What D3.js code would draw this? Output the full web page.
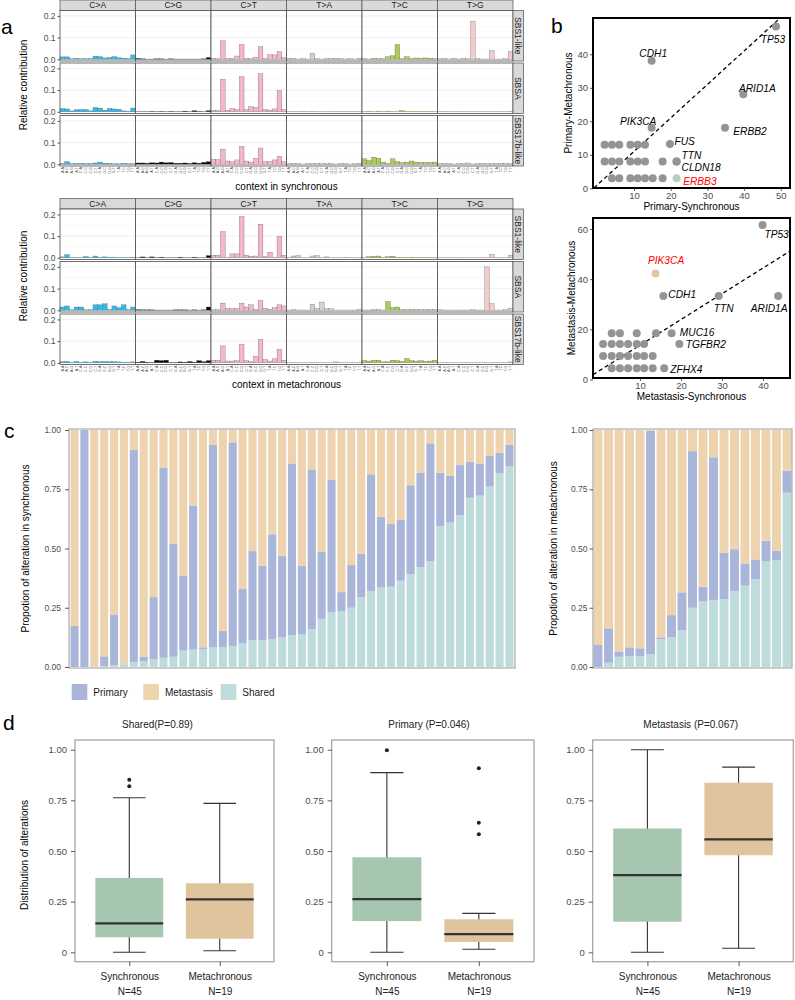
<!DOCTYPE html>
<html>
<head>
<meta charset="utf-8">
<script src="https://cdn.jsdelivr.net/npm/d3@7"></script>
<style>
  body { margin: 0; background: #fff; }
  svg { font-family: "Liberation Sans", Arial, sans-serif; }
</style>
</head>
<body>
<svg id="fig" width="795" height="1000"></svg>
<script>
// ---------- panel a : 96-channel signature profiles ----------
const mutTypes = ['C>A', 'C>G', 'C>T', 'T>A', 'T>C', 'T>G'];
const mutColors = ['#2EBAED', '#000000', '#F5B5CD', '#D4D2D2', '#ADCC54', '#F2CBCD'];
const flankBases = ['A', 'C', 'G', 'T'];
const sigNames = ['SBS1-like', 'SBSA', 'SBS17b-like'];

const syncSBS1 = [
  0.011,0.011,0.002,0.004,0.002,0.003,0.003,0.014,0.012,0.006,0.008,0.012,0.007,0.005,0.003,0.020,
  0.004,0.002,0.001,0.001,0.002,0.002,0.001,0.002,0.001,0.001,0.001,0.001,0.001,0.001,0.002,0.008,
  0.005,0.002,0.085,0.002,0.005,0.015,0.068,0.004,0.002,0.010,0.058,0.003,0.021,0.020,0.035,0.008,
  0.004,0.004,0.001,0.002,0.001,0.028,0.002,0.001,0.002,0.003,0.005,0.002,0.001,0.002,0.001,0.005,
  0.002,0.001,0.005,0.002,0.002,0.012,0.016,0.068,0.003,0.012,0.003,0.006,0.005,0.006,0.005,0.002,
  0.002,0.002,0.001,0.005,0.001,0.004,0.002,0.175,0.002,0.001,0.001,0.040,0.001,0.001,0.002,0.035
];
const syncSBSA = [
  0.015,0.013,0.004,0.009,0.010,0.010,0.004,0.020,0.017,0.007,0.015,0.013,0.011,0.004,0.003,0.017,
  0.001,0.001,0.001,0.002,0.001,0.002,0.001,0.002,0.001,0.001,0.003,0.001,0.005,0.002,0.001,0.005,
  0.006,0.006,0.150,0.006,0.015,0.010,0.162,0.010,0.023,0.020,0.175,0.010,0.008,0.013,0.098,0.010,
  0.002,0.002,0.002,0.003,0.002,0.003,0.001,0.001,0.001,0.001,0.001,0.002,0.002,0.002,0.002,0.002,
  0.001,0.003,0.001,0.003,0.001,0.003,0.001,0.001,0.005,0.002,0.002,0.002,0.002,0.002,0.002,0.001,
  0.002,0.002,0.001,0.001,0.001,0.001,0.001,0.001,0.001,0.001,0.001,0.001,0.001,0.001,0.001,0.003
];
const syncSBS17b = [
  0.004,0.012,0.003,0.003,0.004,0.003,0.003,0.006,0.010,0.005,0.004,0.002,0.002,0.004,0.002,0.003,
  0.006,0.006,0.005,0.007,0.006,0.010,0.007,0.008,0.005,0.005,0.006,0.004,0.007,0.005,0.009,0.012,
  0.022,0.022,0.070,0.015,0.012,0.020,0.082,0.015,0.010,0.027,0.075,0.012,0.012,0.020,0.037,0.012,
  0.003,0.003,0.003,0.001,0.002,0.002,0.003,0.002,0.002,0.002,0.001,0.002,0.003,0.001,0.002,0.003,
  0.025,0.017,0.033,0.028,0.010,0.004,0.025,0.012,0.008,0.010,0.015,0.010,0.008,0.008,0.008,0.010,
  0.002,0.002,0.003,0.001,0.002,0.002,0.006,0.001,0.002,0.002,0.002,0.002,0.003,0.003,0.002,0.002
];
const metaSBS1 = [
  0.004,0.014,0.002,0.002,0.002,0.006,0.002,0.008,0.003,0.004,0.003,0.003,0.002,0.002,0.002,0.003,
  0.001,0.004,0.001,0.004,0.001,0.003,0.001,0.001,0.001,0.003,0.001,0.001,0.003,0.001,0.001,0.010,
  0.012,0.012,0.120,0.003,0.018,0.018,0.190,0.012,0.007,0.008,0.155,0.005,0.025,0.003,0.100,0.012,
  0.003,0.008,0.010,0.002,0.002,0.008,0.010,0.002,0.004,0.002,0.001,0.001,0.003,0.002,0.001,0.002,
  0.002,0.005,0.007,0.008,0.002,0.005,0.007,0.003,0.002,0.002,0.003,0.002,0.002,0.002,0.002,0.002,
  0.002,0.001,0.002,0.001,0.002,0.001,0.001,0.001,0.001,0.001,0.002,0.015,0.001,0.002,0.001,0.012
];
const metaSBSA = [
  0.015,0.020,0.002,0.015,0.015,0.002,0.002,0.025,0.025,0.030,0.003,0.020,0.012,0.025,0.003,0.015,
  0.003,0.002,0.002,0.002,0.001,0.001,0.001,0.001,0.002,0.002,0.002,0.001,0.002,0.001,0.002,0.015,
  0.002,0.002,0.033,0.008,0.008,0.008,0.033,0.015,0.025,0.004,0.045,0.010,0.005,0.012,0.025,0.020,
  0.001,0.002,0.001,0.001,0.001,0.028,0.008,0.038,0.007,0.007,0.001,0.001,0.001,0.001,0.001,0.004,
  0.001,0.001,0.002,0.002,0.001,0.040,0.012,0.015,0.002,0.002,0.003,0.002,0.002,0.002,0.002,0.002,
  0.002,0.001,0.001,0.001,0.001,0.001,0.001,0.002,0.001,0.001,0.200,0.030,0.001,0.001,0.002,0.010
];
const metaSBS17b = [
  0.005,0.006,0.003,0.006,0.003,0.004,0.003,0.007,0.005,0.005,0.005,0.005,0.004,0.003,0.003,0.004,
  0.003,0.006,0.003,0.002,0.012,0.010,0.012,0.002,0.002,0.004,0.003,0.006,0.003,0.010,0.005,0.010,
  0.012,0.012,0.078,0.008,0.008,0.010,0.085,0.010,0.005,0.030,0.108,0.015,0.008,0.018,0.062,0.012,
  0.002,0.002,0.001,0.001,0.001,0.002,0.001,0.002,0.001,0.001,0.004,0.002,0.001,0.002,0.001,0.002,
  0.010,0.008,0.012,0.012,0.004,0.005,0.012,0.010,0.006,0.020,0.010,0.008,0.010,0.006,0.008,0.012,
  0.002,0.002,0.002,0.002,0.001,0.002,0.002,0.002,0.002,0.001,0.002,0.002,0.001,0.002,0.002,0.004
];
const sigTicks = [0, 0.1, 0.2];

// ---------- panel b : gene scatter ----------
const priGenes = ['TP53', 'CDH1', 'ARID1A', 'ERBB2', 'PIK3CA', 'FUS', 'TTN', 'CLDN18', 'ERBB3'];
const priGeneX = [48.7, 14.8, 39.8, 34.8, 14.8, 19.8, 21.6, 21.6, 21.6];
const priGeneY = [48.3, 38.1, 28.1, 18.1, 18.1, 13.2, 8, 8, 3];
const priOtherX = [2, 4, 6, 9, 11, 13,  2, 4, 6, 9, 11, 13, 17.8,  4, 6, 9, 11, 13, 15.1, 17.8];
const priOtherY = [13, 13, 13, 13, 13, 13,  8, 8, 8, 8, 8, 8, 8,  3, 3, 3, 3, 3, 3, 3];
const priFit = [1.0, 1.0]; // intercept, slope
const priHighlight = 'ERBB3';

const metGenes = ['TP53', 'PIK3CA', 'CDH1', 'TTN', 'ARID1A', 'MUC16', 'TGFBR2', 'ZFHX4'];
const metGeneX = [39.9, 13.8, 15.7, 29.2, 43.7, 17.7, 19.6, 15.9];
const metGeneY = [61.6, 42.3, 33.3, 33.3, 33.3, 18.4, 14.2, 4.5];
const metOtherX = [3.1, 5.1, 9.2, 13.9,  1.0, 3.1, 5.1, 7.1, 9.2, 11.0,
                   1.0, 3.1, 5.1, 7.1, 9.2, 11.0, 13.1,  3.1, 5.1, 7.1, 9.2, 11.0, 13.1];
const metOtherY = [18.4, 18.4, 18.4, 18.4,  14.2, 14.2, 14.2, 14.2, 14.2, 14.2,
                   9.4, 9.4, 9.4, 9.4, 9.4, 9.4, 9.4,  4.5, 4.5, 4.5, 4.5, 4.5, 4.5];
const metFit = [3.4, 1.026];
const metHighlight = 'PIK3CA';

// ---------- panel c : proportion of alteration per patient ----------
const stackKeys = ['shared', 'primary', 'metastasis'];
const stackLabels = ['Primary', 'Metastasis', 'Shared'];
const syncShared = [0, 0, 0, 0.003, 0.008, 0.012, 0.020, 0.024, 0.032, 0.039, 0.043, 0.069, 0.073, 0.075, 0.083,
  0.083, 0.089, 0.100, 0.114, 0.114, 0.118, 0.125, 0.135, 0.139, 0.160, 0.203, 0.232, 0.236, 0.250, 0.294,
  0.321, 0.335, 0.339, 0.364, 0.392, 0.421, 0.447, 0.595, 0.609, 0.641, 0.714, 0.723, 0.761, 0.817, 0.848];
const syncPrimary = [0.173, 1.0, 0, 0.042, 0.214, 0, 0.896, 0.019, 0.263, 0.802, 0.476, 0.315, 0.608, 0.008, 0.854,
  0.070, 0.859, 0.229, 0.375, 0.314, 0.442, 0.343, 0.724, 0.289, 0.674, 0.282, 0.557, 0.080, 0.180, 0.183,
  0.492, 0.299, 0.264, 0.256, 0.375, 0.399, 0.497, 0.225, 0.198, 0.211, 0.152, 0.136, 0.129, 0.087, 0.089];
const syncMeta = [0.827, 0, 1.0, 0.955, 0.778, 0.988, 0.084, 0.957, 0.705, 0.159, 0.481, 0.616, 0.319, 0.917, 0.063,
  0.847, 0.052, 0.671, 0.511, 0.572, 0.440, 0.532, 0.141, 0.572, 0.166, 0.515, 0.211, 0.684, 0.570, 0.523,
  0.187, 0.366, 0.397, 0.380, 0.233, 0.180, 0.056, 0.180, 0.193, 0.148, 0.134, 0.141, 0.110, 0.096, 0.063];
const metaShared = [0, 0.018, 0.043, 0.046, 0.046, 0.055, 0.117, 0.125, 0.156, 0.250, 0.276, 0.283, 0.286, 0.321,
  0.343, 0.370, 0.447, 0.451, 0.735];
const metaPrimary = [0.093, 0.145, 0.022, 0.037, 0.033, 0.941, 0.008, 0.094, 0.159, 0.661, 0.063, 0.602, 0.196,
  0.176, 0.094, 0.084, 0.086, 0.040, 0.093];
const metaMeta = [0.907, 0.837, 0.935, 0.917, 0.921, 0.004, 0.875, 0.781, 0.685, 0.089, 0.661, 0.115, 0.518,
  0.503, 0.563, 0.546, 0.467, 0.509, 0.172];
const propTicks = [0, 0.25, 0.5, 0.75, 1];

// ---------- panel d : box plots ----------
const boxGroups = ['Synchronous', 'Metachronous'];
const boxN = ['N=45', 'N=19'];
const boxTitles = ['Shared(P=0.89)', 'Primary (P=0.046)', 'Metastasis (P=0.067)'];
// [lower whisker, Q1, median, Q3, upper whisker]
const sharedStats = [[0, 0.074, 0.143, 0.367, 0.763], [0.008, 0.067, 0.261, 0.341, 0.735]];
const sharedOutliers = [[0.852, 0.819], []];
const primaryStats = [[0, 0.154, 0.262, 0.469, 0.887], [0.015, 0.051, 0.090, 0.163, 0.192]];
const primaryOutliers = [[0.997], [0.909, 0.640, 0.583]];
const metastasisStats = [[0, 0.151, 0.381, 0.611, 1.0], [0.020, 0.479, 0.557, 0.837, 0.914]];
const metastasisOutliers = [[], []];

const svg = d3.select('#fig');

function panelLetter(txt, x, y) {
  svg.append('text').text(txt).attr('x', x).attr('y', y).style('font-size', '21px').attr('fill', '#000');
}

function styleAxis(ax, size, col) {
  ax.select('.domain').remove();
  ax.selectAll('.tick line').attr('stroke', '#333').attr('stroke-width', 0.8);
  ax.selectAll('.tick text').style('font-size', size).attr('fill', col || '#4D4D4D')
    .style('font-family', '"Liberation Sans", Arial, sans-serif');
}

// ---------- a ----------
function drawSignatureBlock(top, sigs, xTitle, yTitleY) {
  const left = 60, facetW = 75.5, stripH = 10.5, rowH = 50.5, rowGap = 2;
  const g = svg.append('g');
  const x = d3.scaleBand().domain(d3.range(16)).range([0, facetW]);
  const ctx = [];
  flankBases.forEach(a => flankBases.forEach(b => ctx.push(a + '.' + b)));

  mutTypes.forEach((m, j) => {
    g.append('rect').attr('x', left + j * facetW).attr('y', top)
      .attr('width', facetW).attr('height', stripH)
      .attr('fill', '#D9D9D9').attr('stroke', '#4D4D4D').attr('stroke-width', 0.7);
    g.append('text').text(m)
      .attr('x', left + j * facetW + facetW / 2).attr('y', top + stripH / 2 + 3)
      .attr('text-anchor', 'middle').style('font-size', '8.5px').attr('fill', '#1A1A1A');
  });

  let lastBottom = 0;
  sigs.forEach((vals, i) => {
    const y0 = top + stripH + i * (rowH + rowGap);
    const y = d3.scaleLinear().domain([-0.008, 0.225]).range([y0 + rowH, y0]);
    lastBottom = y0 + rowH;

    mutTypes.forEach((m, j) => {
      const p = g.append('g').attr('transform', `translate(${left + j * facetW},0)`);
      p.append('rect').attr('x', 0).attr('y', y0).attr('width', facetW).attr('height', rowH).attr('fill', '#fff');
      [0.05, 0.15].forEach(t => p.append('line').attr('x1', 0).attr('x2', facetW)
        .attr('y1', y(t)).attr('y2', y(t)).attr('stroke', '#F2F2F2').attr('stroke-width', 0.5));
      sigTicks.forEach(t => p.append('line').attr('x1', 0).attr('x2', facetW)
        .attr('y1', y(t)).attr('y2', y(t)).attr('stroke', '#EBEBEB').attr('stroke-width', 0.8));
      p.selectAll('rect.bar')
        .data(vals.slice(j * 16, j * 16 + 16))
        .join('rect')
        .attr('class', 'bar')
        .attr('x', (d, k) => x(k))
        .attr('width', x.bandwidth())
        .attr('y', d => y(d))
        .attr('height', d => y(0) - y(d))
        .attr('fill', mutColors[j])
        .attr('stroke', '#5A5A5A')
        .attr('stroke-width', 0.3);
      p.append('rect').attr('x', 0).attr('y', y0).attr('width', facetW).attr('height', rowH)
        .attr('fill', 'none').attr('stroke', '#4D4D4D').attr('stroke-width', 0.8);
    });

    const ax = g.append('g').attr('transform', `translate(${left},0)`)
      .call(d3.axisLeft(y).tickValues(sigTicks).tickFormat(d3.format('.1f')).tickSize(2.5).tickPadding(2));
    styleAxis(ax, '8.5px');

    const sx = left + 6 * facetW;
    g.append('rect').attr('x', sx).attr('y', y0).attr('width', 10.5).attr('height', rowH)
      .attr('fill', '#D9D9D9').attr('stroke', '#4D4D4D').attr('stroke-width', 0.7);
    g.append('text').text(sigNames[i])
      .attr('transform', `translate(${sx + 2.3},${y0 + rowH / 2}) rotate(90)`)
      .attr('text-anchor', 'middle').style('font-size', '8.5px').attr('fill', '#1A1A1A');
  });

  // context tick labels under the last row
  mutTypes.forEach((m, j) => {
    ctx.forEach((c, k) => {
      const cx = left + j * facetW + x(k) + x.bandwidth() / 2;
      g.append('text').text(c)
        .attr('transform', `translate(${cx + 1.2},${lastBottom + 1.2}) rotate(-90)`)
        .attr('text-anchor', 'end').style('font-size', '3.6px').attr('fill', '#4D4D4D');
    });
  });

  g.append('text').text(xTitle).attr('x', left + 3 * facetW).attr('y', lastBottom + 23.5)
    .attr('text-anchor', 'middle').style('font-size', '10px');
  g.append('text').text('Relative contribution')
    .attr('transform', `translate(26.5,${yTitleY}) rotate(-90)`)
    .attr('text-anchor', 'middle').style('font-size', '10px');
}

drawSignatureBlock(0, [syncSBS1, syncSBSA, syncSBS17b], 'context in synchronous', 85);
drawSignatureBlock(198.5, [metaSBS1, metaSBSA, metaSBS17b], 'context in metachronous', 276);
panelLetter('a', 1, 34);

// ---------- b ----------
function drawScatter(o) {
  const g = svg.append('g');
  const [bx0, by0, bx1, by1] = o.box;
  const x = d3.scaleLinear().domain(o.xCal).range(o.xPx);
  const y = d3.scaleLinear().domain(o.yCal).range(o.yPx);

  g.append('rect').attr('x', bx0).attr('y', by0).attr('width', bx1 - bx0).attr('height', by1 - by0)
    .attr('fill', '#fff');

  // fitted line clipped to the panel
  const yb = y.invert(by1), yt = y.invert(by0);
  const xa = Math.max(x.invert(bx0), (yb - o.fit[0]) / o.fit[1]);
  const xb = Math.min(x.invert(bx1), (yt - o.fit[0]) / o.fit[1]);
  g.append('line')
    .attr('x1', x(xa)).attr('y1', y(o.fit[0] + o.fit[1] * xa))
    .attr('x2', x(xb)).attr('y2', y(o.fit[0] + o.fit[1] * xb))
    .attr('stroke', '#000').attr('stroke-width', 1.3).attr('stroke-dasharray', '4,3');

  g.selectAll('circle.other')
    .data(o.otherX.map((v, i) => [v, o.otherY[i]]))
    .join('circle')
    .attr('class', 'other')
    .attr('cx', d => x(d[0])).attr('cy', d => y(d[1])).attr('r', 4)
    .attr('fill', '#949494');

  g.selectAll('circle.gene')
    .data(o.genes)
    .join('circle')
    .attr('class', 'gene')
    .attr('cx', (d, i) => x(o.geneX[i])).attr('cy', (d, i) => y(o.geneY[i])).attr('r', 4)
    .attr('fill', d => d === o.highlight ? o.highlightFill : '#949494');

  g.selectAll('text.gene')
    .data(o.genes)
    .join('text')
    .attr('class', 'gene')
    .text(d => d)
    .attr('x', (d, i) => x(o.geneX[i]) + o.labelPos[d][0])
    .attr('y', (d, i) => y(o.geneY[i]) + o.labelPos[d][1])
    .attr('text-anchor', d => o.labelPos[d][2])
    .style('font-size', '10.2px').style('font-style', 'italic')
    .attr('fill', d => d === o.highlight ? '#FF0000' : '#000');

  g.append('rect').attr('x', bx0).attr('y', by0).attr('width', bx1 - bx0).attr('height', by1 - by0)
    .attr('fill', 'none').attr('stroke', '#000').attr('stroke-width', 2);

  const axB = g.append('g').attr('transform', `translate(0,${by1})`)
    .call(d3.axisBottom(x).tickValues(o.xTicks).tickSize(3).tickPadding(1));
  styleAxis(axB, '9.5px');
  const axL = g.append('g').attr('transform', `translate(${bx0},0)`)
    .call(d3.axisLeft(y).tickValues(o.yTicks).tickSize(3).tickPadding(2));
  styleAxis(axL, '9.5px');

  g.append('text').text(o.xTitle).attr('x', (bx0 + bx1) / 2).attr('y', by1 + 22)
    .attr('text-anchor', 'middle').style('font-size', '10px');
  g.append('text').text(o.yTitle)
    .attr('transform', `translate(${o.yTitleX},${(by0 + by1) / 2}) rotate(-90)`)
    .attr('text-anchor', 'middle').style('font-size', '10px');
}

drawScatter({
  box: [593, 18, 790, 188],
  xCal: [0, 50], xPx: [597.3, 780.8],
  yCal: [0, 40], yPx: [188.3, 54.3],
  xTicks: [10, 20, 30, 40, 50], yTicks: [0, 10, 20, 30, 40],
  genes: priGenes, geneX: priGeneX, geneY: priGeneY,
  otherX: priOtherX, otherY: priOtherY,
  fit: priFit, highlight: priHighlight, highlightFill: '#B7CEBF',
  labelPos: {
    TP53: [-3, 16.6, 'middle'], CDH1: [1.6, -3.4, 'middle'], ARID1A: [14, -2.6, 'middle'],
    ERBB2: [8.3, 7.3, 'start'], PIK3CA: [-13.4, -2.7, 'middle'], FUS: [4.5, 1.4, 'start'],
    TTN: [5, -2.2, 'start'], CLDN18: [5, 9.6, 'start'], ERBB3: [6.6, 6.9, 'start']
  },
  xTitle: 'Primary-Synchronous', yTitle: 'Primary-Metachronous', yTitleX: 572
});

drawScatter({
  box: [593, 218, 790, 378],
  xCal: [0, 40], xPx: [599, 763],
  yCal: [0, 60], yPx: [379.5, 229],
  xTicks: [10, 20, 30, 40], yTicks: [0, 20, 40, 60],
  genes: metGenes, geneX: metGeneX, geneY: metGeneY,
  otherX: metOtherX, otherY: metOtherY,
  fit: metFit, highlight: metHighlight, highlightFill: '#DCC8A2',
  labelPos: {
    TP53: [14, 12.7, 'middle'], PIK3CA: [10.5, -9.3, 'middle'], CDH1: [5, 1.7, 'start'],
    TTN: [5, 16.3, 'middle'], ARID1A: [-9, 16.3, 'middle'], MUC16: [8.3, 2.7, 'start'],
    TGFBR2: [6.4, 4.3, 'start'], ZFHX4: [6, 4.4, 'start']
  },
  xTitle: 'Metastasis-Synchronous', yTitle: 'Metastasis-Metachronous', yTitleX: 575
});
panelLetter('b', 551, 33);

// ---------- c ----------
const stackColors = { shared: '#BEDCDB', primary: '#A9B5D9', metastasis: '#EDD3AE' };

function drawStacked(o) {
  const g = svg.append('g');
  const rows = o.shared.map((s, i) => ({ id: i, shared: s, primary: o.primary[i], metastasis: o.meta[i] }));
  const series = d3.stack().keys(stackKeys)(rows);
  const x = d3.scaleBand().domain(rows.map(d => d.id)).range([o.x0, o.x1])
    .paddingInner(o.padIn).paddingOuter(o.padOut);
  const y = d3.scaleLinear().domain([0, 1]).range([o.yBottom, o.yTop]);

  g.selectAll('g.layer')
    .data(series)
    .join('g')
    .attr('class', 'layer')
    .attr('fill', d => stackColors[d.key])
    .selectAll('rect')
    .data(d => d)
    .join('rect')
    .attr('x', d => x(d.data.id))
    .attr('width', x.bandwidth())
    .attr('y', d => y(d[1]))
    .attr('height', d => y(d[0]) - y(d[1]));

  g.append('rect').attr('x', o.x0).attr('y', o.yTop - 1).attr('width', o.x1 - o.x0)
    .attr('height', o.yBottom - o.yTop + 2).attr('fill', 'none')
    .attr('stroke', '#999').attr('stroke-width', 1);

  const ax = g.append('g').attr('transform', `translate(${o.x0},0)`)
    .call(d3.axisLeft(y).tickValues(propTicks).tickFormat(d3.format('.2f')).tickSize(o.tick).tickPadding(o.pad));
  styleAxis(ax, '8.5px');

  g.append('text').text(o.yTitle)
    .attr('transform', `translate(${o.yTitleX},${(o.yTop + o.yBottom) / 2}) rotate(-90)`)
    .attr('text-anchor', 'middle').style('font-size', '10px');
}

drawStacked({
  shared: syncShared, primary: syncPrimary, meta: syncMeta,
  x0: 69, x1: 515, yTop: 430, yBottom: 667, padIn: 0.18, padOut: 0.15, tick: 4, pad: 4,
  yTitle: 'Propotion of alteration in synchronous', yTitleX: 28.5
});
drawStacked({
  shared: metaShared, primary: metaPrimary, meta: metaMeta,
  x0: 593, x1: 792, yTop: 430, yBottom: 667, padIn: 0.15, padOut: 0.05, tick: 3.5, pad: 2,
  yTitle: 'Propotion of alteration in metachronous', yTitleX: 557
});

// legend
const legendKeys = ['primary', 'metastasis', 'shared'];
const legendX = [71.7, 143.3, 220.7];
const leg = svg.append('g');
leg.selectAll('rect')
  .data(legendKeys)
  .join('rect')
  .attr('x', (d, i) => legendX[i]).attr('y', 684)
  .attr('width', 15.6).attr('height', 16)
  .attr('fill', d => stackColors[d]);
leg.selectAll('text')
  .data(stackLabels)
  .join('text')
  .text(d => d)
  .attr('x', (d, i) => legendX[i] + 21.6).attr('y', 695.5)
  .style('font-size', '10px').attr('fill', '#1A1A1A');
panelLetter('c', 4, 438);

// ---------- d ----------
const boxFill = ['#A7C6B0', '#DFC49E'];

function drawBoxPanel(o) {
  const g = svg.append('g');
  const x = d3.scalePoint().domain(boxGroups).range([o.x0, o.x1]).padding(0.6);
  const y = d3.scaleLinear().domain([0, 1]).range([952.3, 749.7]);
  const step = x.step();

  g.append('rect').attr('x', o.x0).attr('y', 740).attr('width', o.x1 - o.x0).attr('height', 221.7)
    .attr('fill', '#fff').attr('stroke', '#A6A6A6').attr('stroke-width', 1.3);

  o.stats.forEach((s, i) => {
    const cx = x(boxGroups[i]);
    const bw = step * 0.75, cw = step * 0.36;
    g.append('line').attr('x1', cx).attr('x2', cx).attr('y1', y(s[0])).attr('y2', y(s[4]))
      .attr('stroke', '#333').attr('stroke-width', 1.1);
    [s[0], s[4]].forEach(v => g.append('line').attr('x1', cx - cw / 2).attr('x2', cx + cw / 2)
      .attr('y1', y(v)).attr('y2', y(v)).attr('stroke', '#333').attr('stroke-width', 1.1));
    g.append('rect').attr('x', cx - bw / 2).attr('width', bw)
      .attr('y', y(s[3])).attr('height', y(s[1]) - y(s[3]))
      .attr('fill', boxFill[i]);
    g.append('line').attr('x1', cx - bw / 2).attr('x2', cx + bw / 2)
      .attr('y1', y(s[2])).attr('y2', y(s[2])).attr('stroke', '#333').attr('stroke-width', 2.2);
    g.selectAll(null)
      .data(o.outliers[i])
      .join('circle')
      .attr('cx', cx).attr('cy', d => y(d)).attr('r', 2)
      .attr('fill', '#222');
  });

  const axL = g.append('g').attr('transform', `translate(${o.x0},0)`)
    .call(d3.axisLeft(y).tickValues(propTicks)
      .tickFormat(d => d === 0 ? '0' : d3.format('.2f')(d)).tickSize(4).tickPadding(4));
  styleAxis(axL, '9.5px');

  const axB = g.append('g').attr('transform', 'translate(0,961.7)')
    .call(d3.axisBottom(x).tickSize(4.5));
  styleAxis(axB, '10px', '#222');
  axB.selectAll('.tick text').each(function (d, i) {
    const t = d3.select(this).text(null).attr('y', 0).attr('dy', null);
    t.append('tspan').attr('x', 0).attr('y', 18.8).text(d);
    t.append('tspan').attr('x', 0).attr('y', 33.3).text(boxN[i]);
  });

  g.append('text').text(o.title).attr('x', o.titleX).attr('y', 728)
    .attr('text-anchor', 'middle').style('font-size', '10px').attr('fill', '#222');
}

drawBoxPanel({ x0: 75, x1: 274, stats: sharedStats, outliers: sharedOutliers, title: boxTitles[0], titleX: 157.5 });
drawBoxPanel({ x0: 331.7, x1: 534, stats: primaryStats, outliers: primaryOutliers, title: boxTitles[1], titleX: 429 });
drawBoxPanel({ x0: 592.7, x1: 793.3, stats: metastasisStats, outliers: metastasisOutliers, title: boxTitles[2], titleX: 690.7 });

svg.append('text').text('Distribution of alterations')
  .attr('transform', 'translate(28,855) rotate(-90)')
  .attr('text-anchor', 'middle').style('font-size', '10px');
panelLetter('d', 3, 730);
</script>
</body>
</html>
